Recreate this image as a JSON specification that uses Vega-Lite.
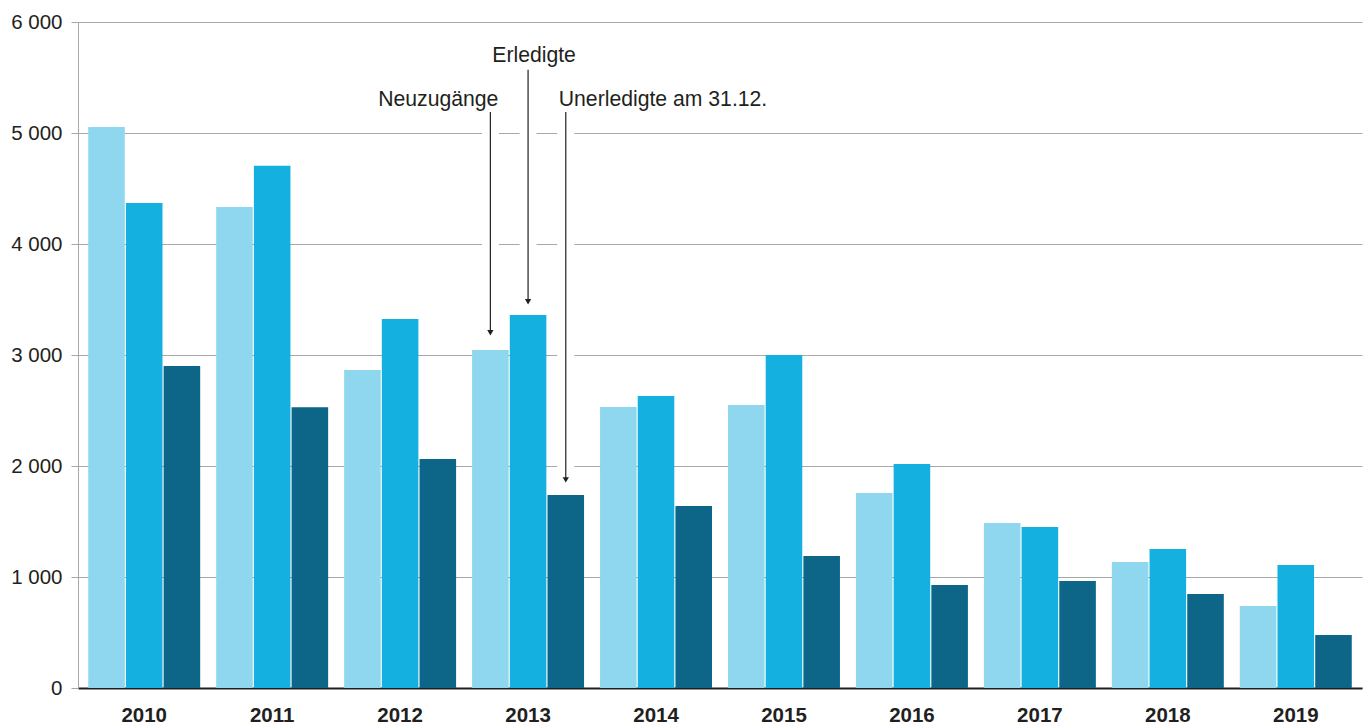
{
  "$schema": "https://vega.github.io/schema/vega-lite/v6.json",
  "width": 1284,
  "height": 666,
  "autosize": {"type": "none"},
  "padding": {"left": 78, "top": 22, "right": 5, "bottom": 39},
  "background": "white",
  "config": {
    "view": {"stroke": null},
    "font": "Liberation Sans",
    "axis": {"labelFont": "Liberation Sans", "titleFont": "Liberation Sans"}
  },
  "datasets": {
    "bars": [
      {"year": "2010", "series": "Neuzugänge", "value": 5055},
      {"year": "2010", "series": "Erledigte", "value": 4370},
      {"year": "2010", "series": "Unerledigte am 31.12.", "value": 2900},
      {"year": "2011", "series": "Neuzugänge", "value": 4333},
      {"year": "2011", "series": "Erledigte", "value": 4705},
      {"year": "2011", "series": "Unerledigte am 31.12.", "value": 2530},
      {"year": "2012", "series": "Neuzugänge", "value": 2865},
      {"year": "2012", "series": "Erledigte", "value": 3325},
      {"year": "2012", "series": "Unerledigte am 31.12.", "value": 2063},
      {"year": "2013", "series": "Neuzugänge", "value": 3045},
      {"year": "2013", "series": "Erledigte", "value": 3360},
      {"year": "2013", "series": "Unerledigte am 31.12.", "value": 1739},
      {"year": "2014", "series": "Neuzugänge", "value": 2532},
      {"year": "2014", "series": "Erledigte", "value": 2631},
      {"year": "2014", "series": "Unerledigte am 31.12.", "value": 1640},
      {"year": "2015", "series": "Neuzugänge", "value": 2550},
      {"year": "2015", "series": "Erledigte", "value": 3000},
      {"year": "2015", "series": "Unerledigte am 31.12.", "value": 1189},
      {"year": "2016", "series": "Neuzugänge", "value": 1757},
      {"year": "2016", "series": "Erledigte", "value": 2018},
      {"year": "2016", "series": "Unerledigte am 31.12.", "value": 928},
      {"year": "2017", "series": "Neuzugänge", "value": 1486},
      {"year": "2017", "series": "Erledigte", "value": 1450},
      {"year": "2017", "series": "Unerledigte am 31.12.", "value": 964},
      {"year": "2018", "series": "Neuzugänge", "value": 1135},
      {"year": "2018", "series": "Erledigte", "value": 1252},
      {"year": "2018", "series": "Unerledigte am 31.12.", "value": 847},
      {"year": "2019", "series": "Neuzugänge", "value": 739},
      {"year": "2019", "series": "Erledigte", "value": 1108},
      {"year": "2019", "series": "Unerledigte am 31.12.", "value": 477}
    ],
    "notes": [
      {"year": "2013", "series": "Neuzugänge", "label": "Neuzugänge", "top": 5190, "tip": 3200, "texty": 5300},
      {"year": "2013", "series": "Erledigte", "label": "Erledigte", "top": 5570, "tip": 3480, "texty": 5690},
      {"year": "2013", "series": "Unerledigte am 31.12.", "label": "Unerledigte am 31.12.", "top": 5190, "tip": 1875, "texty": 5300}
    ]
  },
  "layer": [
    {
      "data": {"name": "bars"},
      "mark": {"type": "bar"},
      "encoding": {
        "x": {
          "field": "year", "type": "nominal",
          "scale": {"paddingInner": 0.125, "paddingOuter": 0.08},
          "axis": {
            "title": null, "labelAngle": 0, "ticks": false,
            "labelFontSize": 20.5, "labelFontWeight": "bold", "labelColor": "#231f20",
            "labelPadding": 17, "domainColor": "#231f20", "domainWidth": 2
          }
        },
        "xOffset": {
          "field": "series", "type": "nominal",
          "scale": {"domain": ["Neuzugänge", "Erledigte", "Unerledigte am 31.12."], "paddingInner": 0.03}
        },
        "y": {
          "field": "value", "type": "quantitative",
          "scale": {"domain": [0, 6000]},
          "axis": {
            "title": null, "values": [0, 1000, 2000, 3000, 4000, 5000, 6000],
            "labelExpr": "replace(format(datum.value, ','), ',', ' ')",
            "labelFontSize": 20.5, "labelColor": "#231f20", "labelPadding": 9,
            "tickColor": "#a8a8a8", "tickSize": 7, "domainColor": "#a8a8a8",
            "gridColor": "#a8a8a8", "gridWidth": 1
          }
        },
        "color": {
          "field": "series", "type": "nominal",
          "scale": {"domain": ["Neuzugänge", "Erledigte", "Unerledigte am 31.12."], "range": ["#8fd7ee", "#14b0e0", "#0d6588"]},
          "legend": null
        }
      }
    },
    {
      "data": {"name": "notes"},
      "mark": {"type": "rule", "color": "white", "strokeWidth": 17},
      "encoding": {
        "x": {"field": "year", "type": "nominal"},
        "xOffset": {"field": "series", "type": "nominal"},
        "y": {"field": "top", "type": "quantitative"},
        "y2": {"field": "tip"}
      }
    },
    {
      "data": {"name": "notes"},
      "mark": {"type": "rule", "color": "#231f20", "strokeWidth": 1.2},
      "encoding": {
        "x": {"field": "year", "type": "nominal"},
        "xOffset": {"field": "series", "type": "nominal"},
        "y": {"field": "top", "type": "quantitative"},
        "y2": {"field": "tip"}
      }
    },
    {
      "data": {"name": "notes"},
      "mark": {"type": "point", "shape": "triangle-down", "filled": true, "color": "#231f20", "size": 40, "opacity": 1},
      "encoding": {
        "x": {"field": "year", "type": "nominal"},
        "xOffset": {"field": "series", "type": "nominal"},
        "y": {"field": "tip", "type": "quantitative"}
      }
    },
    {
      "data": {"name": "notes"},
      "transform": [{"filter": "datum.series === 'Neuzugänge'"}],
      "mark": {"type": "text", "fontSize": 21.2, "color": "#231f20", "baseline": "middle", "align": "right", "dx": 8},
      "encoding": {
        "x": {"field": "year", "type": "nominal"},
        "xOffset": {"field": "series", "type": "nominal"},
        "y": {"field": "texty", "type": "quantitative"},
        "text": {"field": "label"}
      }
    },
    {
      "data": {"name": "notes"},
      "transform": [{"filter": "datum.series === 'Erledigte'"}],
      "mark": {"type": "text", "fontSize": 21.2, "color": "#231f20", "baseline": "middle", "align": "center", "dx": 6},
      "encoding": {
        "x": {"field": "year", "type": "nominal"},
        "xOffset": {"field": "series", "type": "nominal"},
        "y": {"field": "texty", "type": "quantitative"},
        "text": {"field": "label"}
      }
    },
    {
      "data": {"name": "notes"},
      "transform": [{"filter": "datum.series === 'Unerledigte am 31.12.'"}],
      "mark": {"type": "text", "fontSize": 21.2, "color": "#231f20", "baseline": "middle", "align": "left", "dx": -7},
      "encoding": {
        "x": {"field": "year", "type": "nominal"},
        "xOffset": {"field": "series", "type": "nominal"},
        "y": {"field": "texty", "type": "quantitative"},
        "text": {"field": "label"}
      }
    }
  ]
}
